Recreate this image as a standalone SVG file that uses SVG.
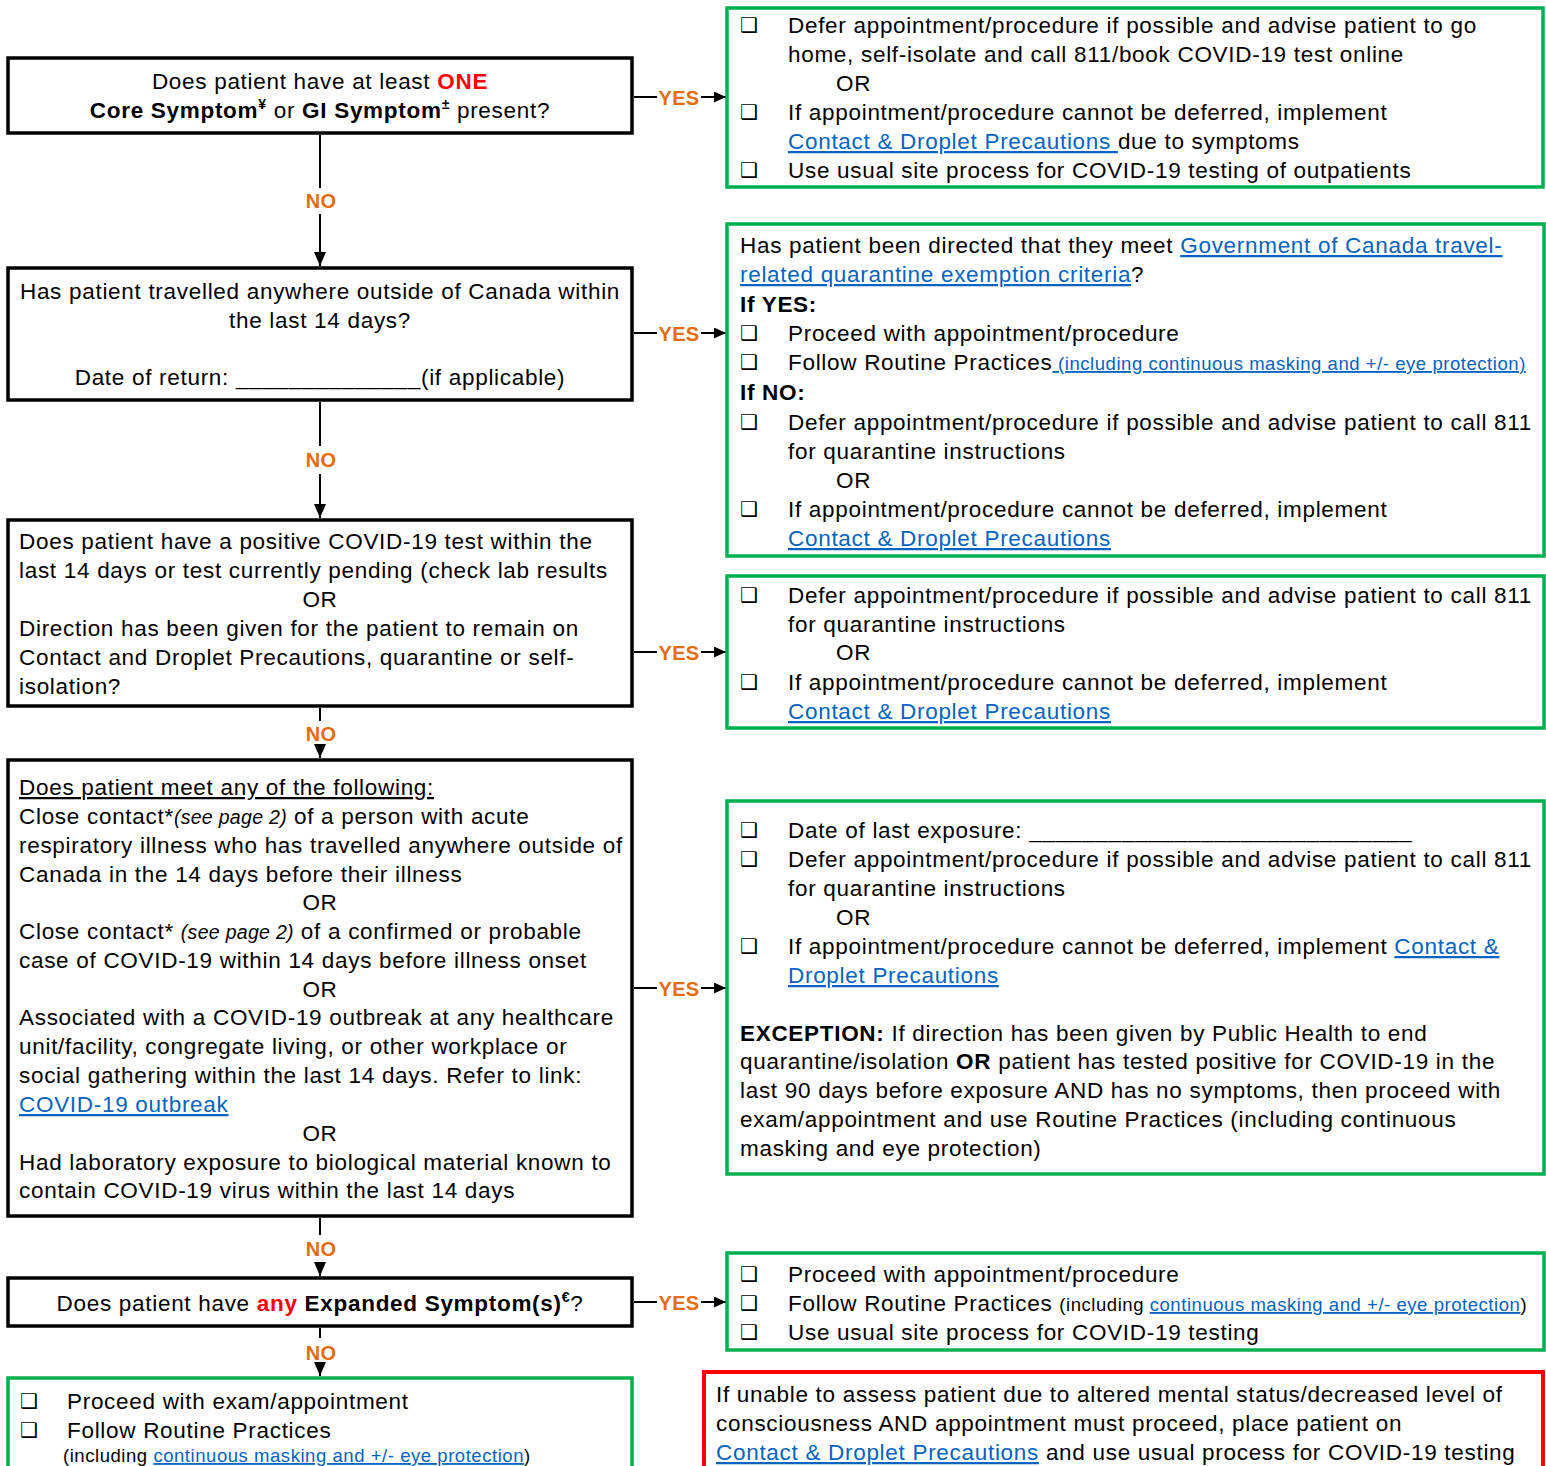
<svg xmlns="http://www.w3.org/2000/svg" width="1546" height="1466" viewBox="0 0 1546 1466">
<style>
text{font-family:"Liberation Sans",Arial,sans-serif;font-size:22.5px;letter-spacing:0.7px;fill:#000}
.b{font-weight:bold}
.r{fill:#FF0000;font-weight:bold}
.lk{fill:#0563C1;text-decoration:underline}
.sm{font-size:18.5px;letter-spacing:0.55px}
.it{font-style:italic;font-size:19.5px;letter-spacing:0.3px}
.sup{font-size:14px;font-weight:bold}
.c{text-anchor:middle}
.cb{font-family:"DejaVu Sans",sans-serif;font-size:20px;font-weight:bold;letter-spacing:0}
.lbl{font-weight:bold;font-size:20px;letter-spacing:0.3px;fill:#E46C0A;text-anchor:middle}
.q{fill:#fff;stroke:#000;stroke-width:3.5}
.g{fill:#fff;stroke:#00B050;stroke-width:3.5}
.red{fill:#fff;stroke:#FF0000;stroke-width:4}
.ln{stroke:#000;stroke-width:2;fill:none}
</style>
<defs>
<marker id="ah" viewBox="0 0 10 10" refX="10" refY="5" markerWidth="12" markerHeight="11" markerUnits="userSpaceOnUse" orient="auto" preserveAspectRatio="none">
<path d="M0,0 L10,5 L0,10 z" fill="#000"/>
</marker>
<marker id="av" viewBox="0 0 10 10" refX="10" refY="5" markerWidth="14" markerHeight="12" markerUnits="userSpaceOnUse" orient="auto" preserveAspectRatio="none">
<path d="M0,0 L10,5 L0,10 z" fill="#000"/>
</marker>
</defs>
<rect width="1546" height="1466" fill="#fff"/>

<g id="connectors">
<line class="ln" x1="320" y1="135" x2="320" y2="188"/>
<line class="ln" x1="320" y1="214" x2="320" y2="266" marker-end="url(#av)"/>
<text class="lbl" x="321" y="208">NO</text>
<line class="ln" x1="320" y1="402" x2="320" y2="446"/>
<line class="ln" x1="320" y1="474" x2="320" y2="518" marker-end="url(#av)"/>
<text class="lbl" x="321" y="467">NO</text>
<line class="ln" x1="320" y1="708" x2="320" y2="721"/>
<line class="ln" x1="320" y1="746" x2="320" y2="758" marker-end="url(#av)"/>
<text class="lbl" x="321" y="741">NO</text>
<line class="ln" x1="320" y1="1218" x2="320" y2="1235"/>
<line class="ln" x1="320" y1="1262" x2="320" y2="1276" marker-end="url(#av)"/>
<text class="lbl" x="321" y="1256">NO</text>
<line class="ln" x1="320" y1="1328" x2="320" y2="1338"/>
<line class="ln" x1="320" y1="1364" x2="320" y2="1376" marker-end="url(#av)"/>
<text class="lbl" x="321" y="1360">NO</text>

<line class="ln" x1="634" y1="97" x2="657" y2="97"/>
<line class="ln" x1="701" y1="97" x2="726" y2="97" marker-end="url(#ah)"/>
<text class="lbl" x="679" y="105">YES</text>
<line class="ln" x1="634" y1="333" x2="657" y2="333"/>
<line class="ln" x1="701" y1="333" x2="726" y2="333" marker-end="url(#ah)"/>
<text class="lbl" x="679" y="341">YES</text>
<line class="ln" x1="634" y1="652" x2="657" y2="652"/>
<line class="ln" x1="701" y1="652" x2="726" y2="652" marker-end="url(#ah)"/>
<text class="lbl" x="679" y="660">YES</text>
<line class="ln" x1="634" y1="988" x2="657" y2="988"/>
<line class="ln" x1="701" y1="988" x2="726" y2="988" marker-end="url(#ah)"/>
<text class="lbl" x="679" y="996">YES</text>
<line class="ln" x1="634" y1="1302" x2="657" y2="1302"/>
<line class="ln" x1="701" y1="1302" x2="726" y2="1302" marker-end="url(#ah)"/>
<text class="lbl" x="679" y="1310">YES</text>
</g>

<g id="q1">
<rect class="q" x="8" y="58" width="624" height="75"/>
<text class="c" x="320" y="89">Does patient have at least <tspan class="r">ONE</tspan></text>
<text class="c" x="320" y="118"><tspan class="b">Core Symptom</tspan><tspan class="sup" dy="-9">¥</tspan><tspan dy="9"> or </tspan><tspan class="b">GI Symptom</tspan><tspan class="sup" dy="-9">±</tspan><tspan dy="9">  present?</tspan></text>
</g>

<g id="q2">
<rect class="q" x="8" y="268" width="624" height="132"/>
<text class="c" x="320" y="299">Has patient travelled anywhere outside of Canada within</text>
<text class="c" x="320" y="328">the last 14 days?</text>
<text class="c" x="320" y="385">Date of return: ______________(if applicable)</text>
</g>

<g id="q3">
<rect class="q" x="8" y="520" width="624" height="186"/>
<text x="19" y="549">Does patient have a positive COVID-19 test within the</text>
<text x="19" y="578">last 14 days or test currently pending (check lab results</text>
<text class="c" x="320" y="607">OR</text>
<text x="19" y="636">Direction has been given for the patient to remain on</text>
<text x="19" y="665">Contact and Droplet Precautions, quarantine or self-</text>
<text x="19" y="694">isolation?</text>
</g>

<g id="q4">
<rect class="q" x="8" y="760" width="624" height="456"/>
<text x="19" y="795" style="text-decoration:underline">Does patient meet any of the following:</text>
<text x="19" y="824">Close contact*<tspan class="it">(see page 2)</tspan> of a person with acute</text>
<text x="19" y="853">respiratory illness who has travelled anywhere outside of</text>
<text x="19" y="882">Canada in the 14 days before their illness</text>
<text class="c" x="320" y="910">OR</text>
<text x="19" y="939">Close contact* <tspan class="it">(see page 2)</tspan> of a confirmed or probable</text>
<text x="19" y="968">case of COVID-19 within 14 days before illness onset</text>
<text class="c" x="320" y="997">OR</text>
<text x="19" y="1025">Associated with a COVID-19 outbreak at any healthcare</text>
<text x="19" y="1054">unit/facility, congregate living, or other workplace or</text>
<text x="19" y="1083">social gathering within the last 14 days. Refer to link:</text>
<text x="19" y="1112" class="lk">COVID-19 outbreak</text>
<text class="c" x="320" y="1141">OR</text>
<text x="19" y="1170">Had laboratory exposure to biological material known to</text>
<text x="19" y="1198">contain COVID-19 virus within the last 14 days</text>
</g>

<g id="q5">
<rect class="q" x="8" y="1278" width="624" height="48"/>
<text class="c" x="320" y="1311">Does patient have <tspan class="r">any</tspan><tspan class="b"> Expanded Symptom(s)</tspan><tspan class="sup" dy="-9">€</tspan><tspan dy="9">?</tspan></text>
</g>

<g id="a6">
<rect class="g" x="8" y="1378" width="624" height="110"/>
<text class="cb" x="20" y="1408">❑</text>
<text x="67" y="1409">Proceed with exam/appointment</text>
<text class="cb" x="20" y="1437">❑</text>
<text x="67" y="1438">Follow Routine Practices</text>
<text class="sm" x="63" y="1462">(including <tspan class="lk">continuous masking and +/- eye protection</tspan>)</text>
</g>

<g id="a1">
<rect class="g" x="727" y="8" width="816" height="179"/>
<text class="cb" x="740" y="32">❑</text>
<text x="788" y="33">Defer appointment/procedure if possible and advise patient to go</text>
<text x="788" y="62">home, self-isolate and call 811/book COVID-19 test online</text>
<text x="836" y="91">OR</text>
<text class="cb" x="740" y="119">❑</text>
<text x="788" y="120">If appointment/procedure cannot be deferred, implement</text>
<text x="788" y="149"><tspan class="lk">Contact &amp; Droplet Precautions </tspan>due to symptoms</text>
<text class="cb" x="740" y="177">❑</text>
<text x="788" y="178">Use usual site process for COVID-19 testing of outpatients</text>
</g>

<g id="a2">
<rect class="g" x="727" y="224" width="817" height="332"/>
<text x="740" y="253">Has patient been directed that they meet <tspan class="lk">Government of Canada travel-</tspan></text>
<text x="740" y="282"><tspan class="lk">related quarantine exemption criteria</tspan>?</text>
<text x="740" y="312" class="b">If YES:</text>
<text class="cb" x="740" y="340">❑</text>
<text x="788" y="341">Proceed with appointment/procedure</text>
<text class="cb" x="740" y="369">❑</text>
<text x="788" y="370">Follow Routine Practices<tspan class="sm lk"> (including continuous masking and +/- eye protection)</tspan></text>
<text x="740" y="400" class="b">If NO:</text>
<text class="cb" x="740" y="429">❑</text>
<text x="788" y="430">Defer appointment/procedure if possible and advise patient to call 811</text>
<text x="788" y="459">for quarantine instructions</text>
<text x="836" y="488">OR</text>
<text class="cb" x="740" y="516">❑</text>
<text x="788" y="517">If appointment/procedure cannot be deferred, implement</text>
<text x="788" y="546" class="lk">Contact &amp; Droplet Precautions</text>
</g>

<g id="a3">
<rect class="g" x="727" y="576" width="817" height="152"/>
<text class="cb" x="740" y="602">❑</text>
<text x="788" y="603">Defer appointment/procedure if possible and advise patient to call 811</text>
<text x="788" y="632">for quarantine instructions</text>
<text x="836" y="660">OR</text>
<text class="cb" x="740" y="689">❑</text>
<text x="788" y="690">If appointment/procedure cannot be deferred, implement</text>
<text x="788" y="719" class="lk">Contact &amp; Droplet Precautions</text>
</g>

<g id="a4">
<rect class="g" x="727" y="801" width="817" height="373"/>
<text class="cb" x="740" y="837">❑</text>
<text x="788" y="838">Date of last exposure: _____________________________</text>
<text class="cb" x="740" y="866">❑</text>
<text x="788" y="867">Defer appointment/procedure if possible and advise patient to call 811</text>
<text x="788" y="896">for quarantine instructions</text>
<text x="836" y="925">OR</text>
<text class="cb" x="740" y="953">❑</text>
<text x="788" y="954">If appointment/procedure cannot be deferred, implement <tspan class="lk">Contact &amp;</tspan></text>
<text x="788" y="983" class="lk">Droplet Precautions</text>
<text x="740" y="1041"><tspan class="b">EXCEPTION:</tspan> If direction has been given by Public Health to end</text>
<text x="740" y="1069">quarantine/isolation <tspan class="b">OR</tspan> patient has tested positive for COVID-19 in the</text>
<text x="740" y="1098">last 90 days before exposure AND has no symptoms, then proceed with</text>
<text x="740" y="1127">exam/appointment and use Routine Practices (including continuous</text>
<text x="740" y="1156">masking and eye protection)</text>
</g>

<g id="a5">
<rect class="g" x="727" y="1253" width="817" height="97"/>
<text class="cb" x="740" y="1281">❑</text>
<text x="788" y="1282">Proceed with appointment/procedure</text>
<text class="cb" x="740" y="1310">❑</text>
<text x="788" y="1311">Follow Routine Practices <tspan class="sm">(including </tspan><tspan class="sm lk">continuous masking and +/- eye protection</tspan><tspan class="sm">)</tspan></text>
<text class="cb" x="740" y="1339">❑</text>
<text x="788" y="1340">Use usual site process for COVID-19 testing</text>
</g>

<g id="note">
<rect class="red" x="704" y="1372" width="839" height="110"/>
<text x="716" y="1402">If unable to assess patient due to altered mental status/decreased level of</text>
<text x="716" y="1431">consciousness AND appointment must proceed, place patient on</text>
<text x="716" y="1460"><tspan class="lk">Contact &amp; Droplet Precautions</tspan> and use usual process for COVID-19 testing</text>
</g>
</svg>
